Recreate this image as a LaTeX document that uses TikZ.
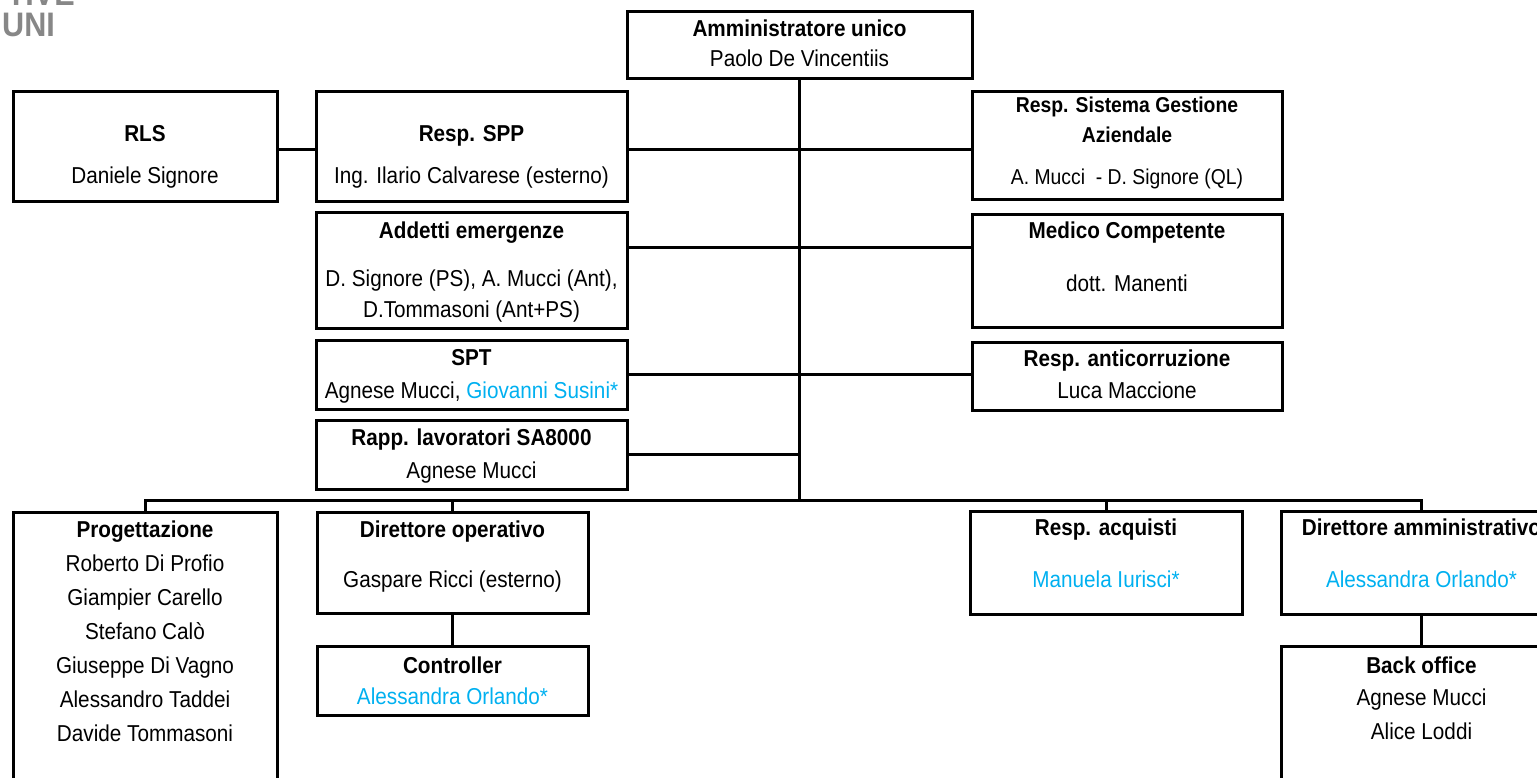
\documentclass[tikz,border=0pt]{standalone}
\usepackage{fontspec}
\setmainfont{Liberation Sans}[FakeStretch=0.9]
\usetikzlibrary{positioning}
\definecolor{extblue}{RGB}{0,176,240}
\definecolor{logogray}{RGB}{135,135,135}

\begin{document}
\begin{tikzpicture}[x=1pt, y=-1pt,
		every node/.style={font=\fontsize{23}{28}\selectfont},
		unit/.style={draw, line width=3pt, inner sep=0pt, outer sep=0pt},
		head/.style={anchor=base, inner sep=0pt, font=\fontsize{23}{28}\selectfont\bfseries},
		person/.style={anchor=base, inner sep=0pt},
		ext/.style={person, text=extblue},
		smallhead/.style={head, font=\fontsize{21.5}{25}\selectfont\bfseries},
		smallperson/.style={person, font=\fontsize{21.5}{25}\selectfont},
		logo/.style={inner sep=0pt, text=logogray, font=\fontsize{34}{40}\selectfont\bfseries},
		link/.style={line width=3pt},
		]
		\useasboundingbox (0,0) rectangle (1537,778);
		\clip (0,0) rectangle (1537,778);
		
		%Logo
		\node[logo, anchor=base east] (logo-top) at (75,6) {TIVE};
		\node[logo, anchor=base west] (logo-uni) at (2,37) {UNI};
		
		%Boxes
		\node[unit, minimum width=345pt, minimum height=67pt]  (au)   at (799.5,45.5) {};
		\node[unit, minimum width=264pt, minimum height=110pt] (rls)  at (145,147)    {};
		\node[unit, minimum width=311pt, minimum height=110pt] (spp)  at (471.5,147)  {};
		\node[unit, minimum width=310pt, minimum height=108pt] (sga)  at (1127,146)   {};
		\node[unit, minimum width=311pt, minimum height=115pt] (add)  at (471.5,270.5) {};
		\node[unit, minimum width=310pt, minimum height=112pt] (med)  at (1127,271)   {};
		\node[unit, minimum width=311pt, minimum height=69pt]  (spt)  at (471.5,374.5) {};
		\node[unit, minimum width=310pt, minimum height=68pt]  (anti) at (1127,376)   {};
		\node[unit, minimum width=311pt, minimum height=69pt]  (rapp) at (471.5,454.5) {};
		\node[unit, minimum width=264pt, minimum height=288pt] (prog) at (145,656)    {};
		\node[unit, minimum width=271pt, minimum height=101pt] (dop)  at (452.5,562.5) {};
		\node[unit, minimum width=271pt, minimum height=69pt]  (ctrl) [below=33pt of dop] {};
		\node[unit, minimum width=272pt, minimum height=103pt] (racq) at (1106,562.5) {};
		\node[unit, minimum width=281pt, minimum height=103pt] (damm) at (1421.5,562.5) {};
		\node[unit, minimum width=281pt, minimum height=154pt] (back) [below=32pt of damm] {};
		
		%Texts
		\node[head]   (au-t)   at (au |- 0,37)   {Amministratore unico};
		\node[person] (au-n)   at (au |- 0,67)   {Paolo De Vincentiis};
		\node[head]   (rls-t)  at (rls |- 0,142) {RLS};
		\node[person] (rls-n)  at (rls |- 0,184) {Daniele Signore};
		\node[head]   (spp-t)  at (spp |- 0,142) {Resp. SPP};
		\node[person] (spp-n)  at (spp |- 0,184) {Ing. Ilario Calvarese (esterno)};
		\node[smallhead]   (sga-t) at (sga |- 0,113) {Resp. Sistema Gestione};
		\node[smallhead]   (sga-u) at (sga |- 0,143) {Aziendale};
		\node[smallperson] (sga-n) at (sga |- 0,185) {A. Mucci\ \ - D. Signore (QL)};
		\node[head]   (add-t)  at (add |- 0,239) {Addetti emergenze};
		\node[person] (add-n)  at (add |- 0,287) {D. Signore (PS), A. Mucci (Ant),};
		\node[person] (add-m)  at (add |- 0,317) {D.Tommasoni (Ant+PS)};
		\node[head]   (med-t)  at (med |- 0,239) {Medico Competente};
		\node[person] (med-n)  at (med |- 0,291) {dott. Manenti};
		\node[head]   (spt-t)  at (spt |- 0,365) {SPT};
		\node[person] (spt-n)  at (spt |- 0,398) {Agnese Mucci, {\color{extblue}Giovanni Susini*}};
		\node[head]   (anti-t) at (anti |- 0,366) {Resp. anticorruzione};
		\node[person] (anti-n) at (anti |- 0,398) {Luca Maccione};
		\node[head]   (rapp-t) at (rapp |- 0,445) {Rapp. lavoratori SA8000};
		\node[person] (rapp-n) at (rapp |- 0,478) {Agnese Mucci};
		\node[head]   (prog-t) at (prog |- 0,537) {Progettazione};
		\foreach \who [count=\i] in {Roberto Di Profio, Giampier Carello, Stefano Calò,
				Giuseppe Di Vagno, Alessandro Taddei, Davide Tommasoni}
			\node[person] (prog-\i) at (prog |- 0,537+34*\i) {\who};
		\node[head]   (dop-t)  at (dop |- 0,537)  {Direttore operativo};
		\node[person] (dop-n)  at (dop |- 0,587)  {Gaspare Ricci (esterno)};
		\node[head]   (ctrl-t) at (ctrl |- 0,673) {Controller};
		\node[ext]    (ctrl-n) at (ctrl |- 0,704) {Alessandra Orlando*};
		\node[head]   (racq-t) at (racq |- 0,535) {Resp. acquisti};
		\node[ext]    (racq-n) at (racq |- 0,587) {Manuela Iurisci*};
		\node[head]   (damm-t) at (damm |- 0,535) {Direttore amministrativo};
		\node[ext]    (damm-n) at (damm |- 0,587) {Alessandra Orlando*};
		\node[head]   (back-t) at (back |- 0,673) {Back office};
		\node[person] (back-n) at (back |- 0,705) {Agnese Mucci};
		\node[person] (back-m) at (back |- 0,739) {Alice Loddi};
		
		%Lines
		\coordinate (bus) at (au |- 0,500);
		\draw[link] ([yshift=-3pt]rls.east) -- ([yshift=-3pt]spp.west);
		\draw[link] ([yshift=-3pt]spp.east) -- ([yshift=-3pt]spp.east -| sga.west);
		\draw[link] ([yshift=22.5pt]add.east) -- ([yshift=22.5pt]add.east -| med.west);
		\draw[link] (spt.east) -- (spt.east -| anti.west);
		\draw[link] (rapp.east) -- (rapp.east -| au.south);
		\draw[link] (au.south) -- (bus);
		\draw[link] (prog.north) |- (bus) -| (damm.north);
		\draw[link] (dop.north) -- (dop.north |- bus);
		\draw[link] (racq.north) -- (racq.north |- bus);
		\draw[link] (dop) -- (ctrl);
		\draw[link] (damm) -- (back);
	\end{tikzpicture}
\end{document}
